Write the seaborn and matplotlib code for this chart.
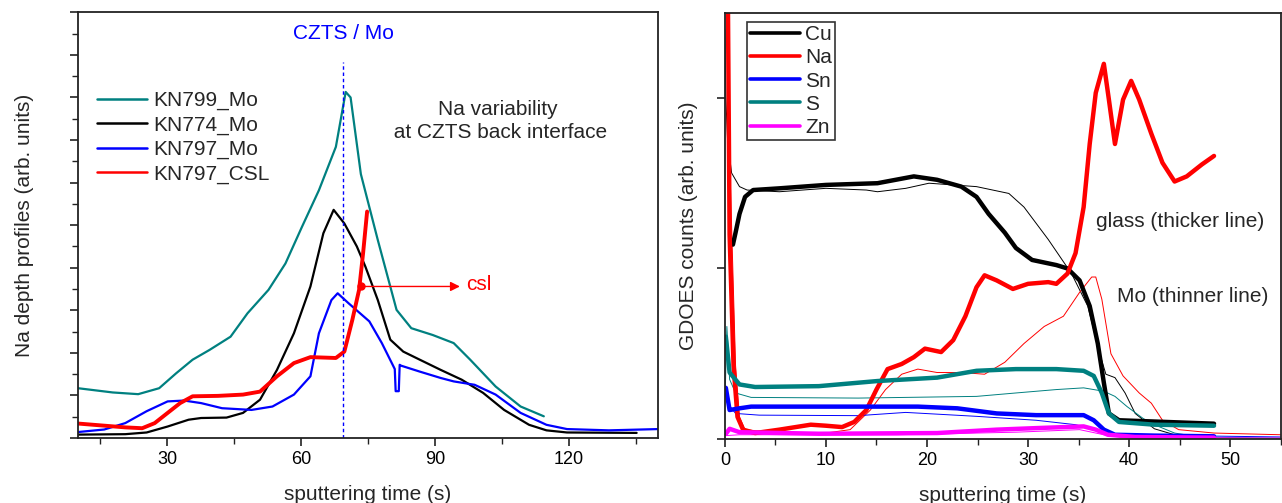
import numpy as np
import pandas as pd
import matplotlib
matplotlib.use("Agg")
import matplotlib.pyplot as plt
import seaborn as sns
from matplotlib.ticker import MultipleLocator, NullFormatter

# ---------------- Left panel data (Na depth profiles) ----------------
kn799_x = [10, 17.8, 23.5, 28.2, 32, 35.7, 39.5, 44.2, 48, 52.7, 56.5, 60.2, 64, 67.8, 70, 71.1, 73.4, 77.2, 81.4, 84.7, 89.5, 94.2, 97.9, 103.6, 109.2, 114.4]
kn799_y = [1.17, 1.07, 1.03, 1.17, 1.52, 1.84, 2.07, 2.38, 2.93, 3.48, 4.1, 4.96, 5.82, 6.84, 8.13, 8.0, 6.2, 4.65, 3.01, 2.58, 2.42, 2.23, 1.84, 1.21, 0.74, 0.51]

kn774_x = [10, 20.6, 25.4, 30.1, 34.8, 37.6, 43.3, 47, 50.8, 54.6, 58.4, 62.1, 65, 67.3, 69.7, 72.5, 74.4, 77.2, 80, 82.9, 86.6, 91.3, 96, 100.8, 105.5, 111.1, 115, 119.6, 135.2]
kn774_y = [0.08, 0.09, 0.13, 0.27, 0.43, 0.47, 0.48, 0.59, 0.9, 1.6, 2.46, 3.56, 4.81, 5.36, 5.04, 4.5, 4.03, 3.24, 2.31, 2.03, 1.84, 1.6, 1.37, 1.06, 0.66, 0.31, 0.18, 0.13, 0.12]

kn797_x = [10, 15.9, 20.6, 25.4, 30.1, 33.8, 37.6, 42.3, 48.9, 53.6, 58.4, 62.1, 64, 66.8, 68.2, 70.6, 75.3, 78.1, 81, 81.2, 81.9, 82.1, 82.4, 86.6, 91.3, 94.2, 98.9, 103.6, 109.2, 115, 119.6, 129, 140]
kn797_y = [0.14, 0.2, 0.35, 0.63, 0.86, 0.88, 0.82, 0.7, 0.66, 0.74, 1.02, 1.45, 2.46, 3.24, 3.4, 3.17, 2.74, 2.23, 1.62, 1.1, 1.1, 1.72, 1.7, 1.56, 1.41, 1.33, 1.25, 1.02, 0.59, 0.31, 0.21, 0.18, 0.21]

csl_x = [10, 15.9, 20.6, 24.4, 27.2, 30.1, 32.9, 35.7, 41.4, 47, 50.8, 54.6, 58.4, 62.1, 67.8, 69.7, 71.5, 73, 73.9, 74.8]
csl_y = [0.34, 0.29, 0.25, 0.23, 0.35, 0.59, 0.82, 0.98, 0.99, 1.02, 1.09, 1.45, 1.76, 1.9, 1.88, 2.03, 2.78, 3.48, 4.34, 5.32]

left_labels = ["KN799_Mo", "KN774_Mo", "KN797_Mo", "KN797_CSL"]
left_colors = ["#008080", "#000000", "#0000FF", "#FF0000"]

interface_x = 69.5
csl_point = (73.4, 3.56)
csl_arrow_end = 95.6

# ---------------- Right panel data (GDOES) ----------------
# thick = glass substrate, thin = Mo substrate
cu_g_x = [0.8, 1.06, 1.45, 2.0, 2.8, 5.4, 10, 15.1, 18.7, 21, 23.4, 24.9, 26.1, 27.7, 28.8, 30.4, 32.8, 33.9, 35.1, 36.1, 36.9, 37.5, 38, 39, 48.4]
cu_g_y = [1.14, 1.21, 1.32, 1.42, 1.46, 1.47, 1.49, 1.5, 1.54, 1.52, 1.48, 1.42, 1.32, 1.21, 1.12, 1.05, 1.02, 1.0, 0.93, 0.78, 0.56, 0.33, 0.15, 0.11, 0.09]
cu_m_x = [0.0, 0.1, 0.27, 0.67, 1.45, 2.2, 5.4, 10, 14, 15.1, 17.9, 20.2, 24.9, 28.1, 29.6, 32, 34.3, 35.9, 37.1, 37.7, 38.6, 39.6, 40.6, 42.5, 44.5, 48.4]
cu_m_y = [2.4, 2.0, 1.75, 1.56, 1.48, 1.46, 1.45, 1.47, 1.46, 1.45, 1.47, 1.5, 1.48, 1.44, 1.36, 1.17, 0.97, 0.78, 0.5, 0.38, 0.36, 0.27, 0.15, 0.06, 0.025, 0.006]

na_g_x = [0.1, 0.3, 0.47, 0.86, 1.25, 1.8, 3, 5.4, 8.5, 10, 11.6, 12.8, 14, 15, 16.1, 17.5, 18.7, 19.8, 21.4, 22.6, 23.8, 24.9, 25.7, 26.9, 28.5, 30, 32, 32.8, 33.9, 34.7, 35.5, 36.1, 36.7, 37.5, 38, 38.6, 39.4, 40.2, 41, 42.2, 43.3, 44.5, 45.7, 47.2, 48.4]
na_g_y = [3.0, 2.6, 1.2, 0.43, 0.13, 0.055, 0.035, 0.055, 0.084, 0.078, 0.07, 0.1, 0.17, 0.29, 0.41, 0.44, 0.48, 0.53, 0.51, 0.58, 0.72, 0.89, 0.96, 0.93, 0.88, 0.91, 0.92, 0.91, 0.97, 1.09, 1.36, 1.73, 2.03, 2.2, 1.99, 1.73, 1.99, 2.1, 1.99, 1.79, 1.62, 1.51, 1.54, 1.61, 1.66]
na_m_x = [0.1, 0.5, 1.06, 1.45, 2.0, 5.4, 10, 12.4, 14.4, 15.9, 17.5, 19.1, 21, 23.4, 25.7, 27.7, 29.6, 31.6, 33.5, 35.1, 36.3, 36.7, 37.3, 38.2, 39.4, 41, 42.2, 43.3, 44.9, 48.4, 55]
na_m_y = [3.0, 1.6, 0.43, 0.13, 0.055, 0.035, 0.035, 0.055, 0.17, 0.29, 0.38, 0.41, 0.39, 0.39, 0.38, 0.45, 0.56, 0.66, 0.72, 0.86, 0.95, 0.95, 0.82, 0.5, 0.37, 0.27, 0.21, 0.11, 0.055, 0.035, 0.025]

sn_g_x = [0.1, 0.47, 1.45, 2.6, 9.3, 15.1, 19.1, 23, 26.9, 30.8, 35.5, 36.5, 37.5, 38.6, 42.5, 48.4]
sn_g_y = [0.3, 0.17, 0.18, 0.19, 0.19, 0.19, 0.19, 0.18, 0.15, 0.14, 0.14, 0.11, 0.055, 0.025, 0.02, 0.016]
sn_m_x = [0.1, 0.4, 1.06, 3.4, 13.2, 17.9, 24.9, 30.8, 34.7, 36.7, 38.6, 55]
sn_m_y = [0.29, 0.2, 0.15, 0.14, 0.137, 0.156, 0.133, 0.11, 0.084, 0.055, 0.025, 0.012]

s_g_x = [0.1, 0.47, 1.45, 3, 9.3, 15.1, 21, 24.9, 28.8, 32.8, 35.5, 36.5, 37.3, 38, 39, 42.5, 48.4]
s_g_y = [0.6, 0.39, 0.32, 0.305, 0.31, 0.34, 0.36, 0.4, 0.41, 0.41, 0.4, 0.37, 0.27, 0.15, 0.1, 0.084, 0.078]
s_m_x = [0.05, 0.2, 0.47, 1.06, 2.6, 13.2, 24.9, 28.8, 32.8, 35.5, 37.5, 38.6, 39.8, 41.4, 42.9, 44.5, 46.5, 48.4, 55]
s_m_y = [0.3, 0.66, 0.35, 0.27, 0.244, 0.24, 0.25, 0.27, 0.29, 0.3, 0.28, 0.25, 0.19, 0.12, 0.074, 0.035, 0.016, 0.01, 0.005]

zn_g_x = [0.1, 0.47, 1.45, 9.3, 21, 26.9, 30.8, 35.5, 36.7, 37.9, 40.6, 48.4]
zn_g_y = [0.03, 0.06, 0.04, 0.031, 0.035, 0.055, 0.064, 0.074, 0.055, 0.025, 0.012, 0.008]
zn_m_x = [0.1, 1.45, 17.0, 28.8, 35.1, 37.5, 40.0, 55]
zn_m_y = [0.02, 0.025, 0.025, 0.04, 0.055, 0.025, 0.01, 0.006]

elements = ["Cu", "Na", "Sn", "S", "Zn"]
element_colors = ["#000000", "#FF0000", "#0000FF", "#008080", "#FF00FF"]

# ---------------- Figure ----------------
sns.set_style("ticks")
plt.rcParams['font.family'] = ['Liberation Sans', 'DejaVu Sans']
FS = 15     # labels, legends, annotations
TFS = 13    # tick labels

fig = plt.figure(figsize=(12.82, 5.03), dpi=100)
axL = fig.add_axes([0.0608, 0.1292, 0.4525, 0.8463])
axR = fig.add_axes([0.5654, 0.1272, 0.4336, 0.8476])

# Left panel
left_series = [(kn799_x, kn799_y), (kn774_x, kn774_y), (kn797_x, kn797_y), (csl_x, csl_y)]
left_lw = [1.6, 1.6, 1.6, 2.8]
for (xs, ys), lab, col, lw in zip(left_series, left_labels, left_colors, left_lw):
    df = pd.DataFrame({"t": xs, "v": ys})
    sns.lineplot(data=df, x="t", y="v", ax=axL, color=col, lw=lw, label=lab,
                 sort=False, estimator=None)

axL.axvline(interface_x, ymin=0, ymax=0.884, color="#0000FF", lw=1.0, ls=(0, (2.5, 2)))
axL.text(interface_x, 9.5, "CZTS / Mo", color="#0000FF", fontsize=FS, ha="center", va="center")
axL.text(104, 7.45, "Na variability\n at CZTS back interface", fontsize=FS, ha="center",
         va="center", linespacing=1.25)
axL.annotate("", xy=(csl_arrow_end, csl_point[1]), xytext=csl_point,
             arrowprops=dict(arrowstyle="-|>", color="#FF0000", lw=1.0, mutation_scale=14,
                             shrinkA=0, shrinkB=0))
axL.plot([csl_point[0]], [csl_point[1]], "o", color="#FF0000", ms=5)
axL.text(csl_arrow_end + 1.3, csl_point[1] + 0.05, "csl", color="#FF0000", fontsize=FS,
         ha="left", va="center")

axL.set_xlim(10, 140)
axL.set_ylim(0, 10)
axL.xaxis.set_major_locator(MultipleLocator(30))
axL.xaxis.set_minor_locator(MultipleLocator(15))
axL.yaxis.set_major_locator(MultipleLocator(1))
axL.yaxis.set_minor_locator(MultipleLocator(0.5))
axL.yaxis.set_major_formatter(NullFormatter())
axL.set_xlabel("sputtering time (s)", fontsize=FS, labelpad=12)
axL.set_ylabel("Na depth profiles (arb. units)", fontsize=FS, labelpad=22)
leg = axL.legend(loc="upper left", bbox_to_anchor=(0.018, 0.835), frameon=False, fontsize=FS,
                 handlelength=2.4, handletextpad=0.3, labelspacing=0.25, borderaxespad=0)
for h in leg.get_lines():
    h.set_linewidth(1.8)

# Right panel
right_series = [
    ((cu_g_x, cu_g_y), (cu_m_x, cu_m_y)),
    ((na_g_x, na_g_y), (na_m_x, na_m_y)),
    ((sn_g_x, sn_g_y), (sn_m_x, sn_m_y)),
    ((s_g_x, s_g_y), (s_m_x, s_m_y)),
    ((zn_g_x, zn_g_y), (zn_m_x, zn_m_y)),
]
# thin (Mo) lines first, then thick (glass)
for (g, m), col in zip(right_series, element_colors):
    dfm = pd.DataFrame({"t": m[0], "v": m[1]})
    sns.lineplot(data=dfm, x="t", y="v", ax=axR, color=col, lw=0.7, sort=False,
                 estimator=None, legend=False)
for (g, m), col, lab in zip(right_series, element_colors, elements):
    dfg = pd.DataFrame({"t": g[0], "v": g[1]})
    sns.lineplot(data=dfg, x="t", y="v", ax=axR, color=col, lw=3.2, sort=False,
                 estimator=None, label=lab)

axR.text(36.75, 1.275, "glass (thicker line)", fontsize=FS, ha="left", va="center")
axR.text(38.8, 0.836, "Mo (thinner line)", fontsize=FS, ha="left", va="center")

axR.set_xlim(0, 55)
axR.set_ylim(0, 2.5)
axR.xaxis.set_major_locator(MultipleLocator(10))
axR.xaxis.set_minor_locator(MultipleLocator(5))
axR.yaxis.set_major_locator(MultipleLocator(1))
axR.yaxis.set_major_formatter(NullFormatter())
axR.set_xlabel("sputtering time (s)", fontsize=FS, labelpad=12)
axR.set_ylabel("GDOES counts (arb. units)", fontsize=FS, labelpad=10)
legR = axR.legend(loc="upper left", bbox_to_anchor=(0.04, 0.978), frameon=True, fancybox=False,
                  edgecolor="#333333", fontsize=FS, handlelength=2.4, handletextpad=0.25,
                  labelspacing=0.2, borderaxespad=0, borderpad=0.15, framealpha=1)
legR.get_frame().set_linewidth(1.2)
for h in legR.get_lines():
    h.set_linewidth(2.6)

for ax in (axL, axR):
    for sp in ax.spines.values():
        sp.set_visible(True)
        sp.set_linewidth(1.3)
        sp.set_color("#222222")
    ax.tick_params(axis="both", which="major", direction="out", length=6, width=1.2,
                   labelsize=TFS, colors="#222222", labelcolor="black")
    ax.tick_params(axis="both", which="minor", direction="out", length=4, width=1.0,
                   colors="#222222")

fig.savefig("out.png", dpi=100)
